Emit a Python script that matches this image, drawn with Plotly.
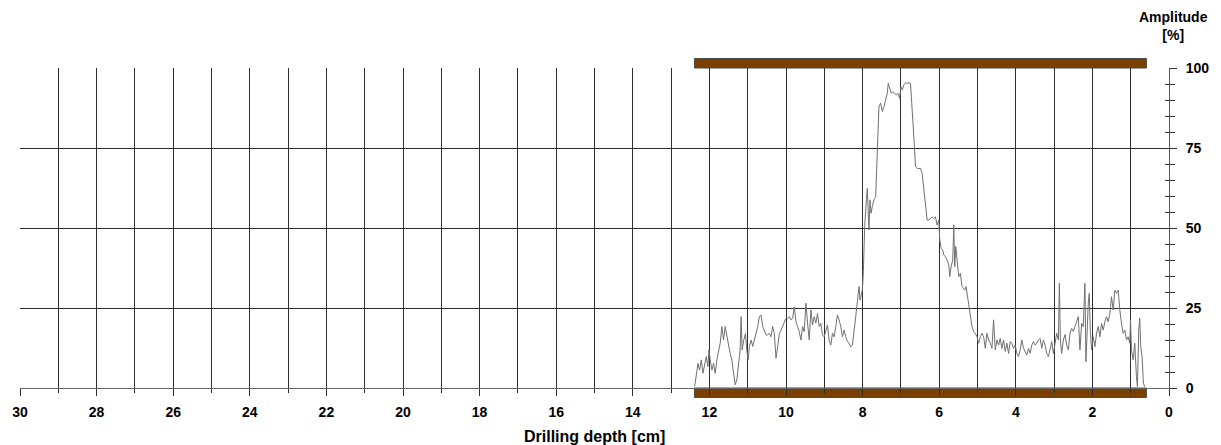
import plotly.graph_objects as go

# ---- data (depth in cm, amplitude in %) ----
depth_cm = [
    12.386, 12.343, 12.299, 12.256, 12.212, 12.169, 12.126, 12.082, 12.039, 12.013,
    11.978, 11.935, 11.891, 11.848, 11.805, 11.753, 11.718, 11.675, 11.631, 11.588,
    11.545, 11.501, 11.458, 11.414, 11.371, 11.328, 11.284, 11.241, 11.198, 11.172,
    11.146, 11.102, 11.059, 11.024, 10.989, 10.955, 10.911, 10.868, 10.825, 10.781,
    10.738, 10.695, 10.651, 10.608, 10.564, 10.521, 10.478, 10.434, 10.391, 10.348,
    10.304, 10.261, 10.217, 10.174, 10.131, 10.087, 10.044, 10.001, 9.957, 9.914,
    9.871, 9.827, 9.784, 9.740, 9.697, 9.654, 9.610, 9.567, 9.524, 9.480,
    9.437, 9.393, 9.350, 9.307, 9.263, 9.220, 9.177, 9.133,
    9.090, 9.047, 9.004, 8.960, 8.917, 8.874, 8.830, 8.787, 8.744, 8.700,
    8.657, 8.613, 8.570, 8.527, 8.483, 8.440, 8.397, 8.353, 8.310, 8.266,
    8.223, 8.180, 8.136, 8.093, 8.067, 8.032, 8.006, 7.980, 7.946, 7.902,
    7.876, 7.850, 7.833, 7.807, 7.781, 7.746, 7.703, 7.659, 7.616, 7.573,
    7.529, 7.486, 7.442, 7.399, 7.356, 7.330, 7.295, 7.252, 7.208, 7.165,
    7.121, 7.078, 7.035, 7.000, 6.965, 6.922, 6.879, 6.835, 6.792, 6.749,
    6.705, 6.662, 6.618, 6.575, 6.532, 6.488, 6.445, 6.402, 6.358, 6.315,
    6.271, 6.228, 6.185, 6.141, 6.098, 6.055, 6.011,
    5.985, 5.950, 5.907, 5.881, 5.837, 5.794, 5.750, 5.725, 5.690, 5.646,
    5.620, 5.594, 5.568, 5.542, 5.516, 5.490, 5.447, 5.404, 5.360, 5.334,
    5.299, 5.273, 5.230, 5.187, 5.143, 5.100, 5.057, 5.013, 4.970, 4.927,
    4.883, 4.840, 4.796, 4.753, 4.710, 4.666, 4.623, 4.580, 4.536, 4.493,
    4.449, 4.406, 4.363, 4.319, 4.276, 4.233, 4.189, 4.146, 4.102, 4.059,
    4.016, 3.972, 3.929, 3.886, 3.842, 3.799, 3.756, 3.712, 3.669, 3.625,
    3.582, 3.539, 3.495, 3.452, 3.409, 3.365, 3.322, 3.279, 3.235, 3.192,
    3.148, 3.105, 3.062, 3.018, 2.975, 2.932, 2.888, 2.862, 2.836, 2.802,
    2.758, 2.715, 2.671, 2.628, 2.585, 2.541, 2.498, 2.455, 2.411, 2.368,
    2.325, 2.281, 2.238, 2.195, 2.169, 2.134, 2.108, 2.082, 2.056, 2.021,
    1.978, 1.934, 1.891, 1.848, 1.804, 1.761, 1.718, 1.674, 1.631, 1.588,
    1.544, 1.501, 1.457, 1.414, 1.371, 1.327, 1.301, 1.284, 1.241, 1.197,
    1.154, 1.110, 1.067, 1.024, 1.006, 0.980, 0.937, 0.894, 0.850, 0.824,
    0.790, 0.764, 0.738, 0.703, 0.668, 0.633,
]
amplitude_pct = [
    0.4, 4.6, 7.7, 5.6, 8.8, 4.6, 6.7, 9.8, 6.7, 11.9,
    8.8, 5.6, 7.7, 4.6, 8.8, 11.9, 14.0, 19.2, 15.0, 19.2,
    16.0, 13.0, 10.8, 8.8, 4.6, 1.0, 2.5, 6.7, 11.9, 22.3,
    11.9, 15.0, 17.0, 11.9, 8.8, 13.0, 15.0, 13.0, 15.0, 17.0,
    19.2, 22.3, 22.8, 19.2, 17.6, 16.6, 16.6, 17.1, 16.0, 19.2,
    17.0, 9.3, 13.0, 17.0, 18.0, 19.2, 20.7, 21.8, 21.8, 22.3,
    21.3, 21.8, 25.4, 20.7, 19.2, 17.6, 15.0, 19.2, 17.6, 26.5,
    20.3, 15.0, 24.4, 19.7, 22.3, 20.3, 23.3, 19.2,
    20.2, 16.6, 16.0, 18.1, 19.7, 15.0, 13.4, 17.1, 16.0, 19.2,
    22.8, 21.3, 19.2, 16.0, 18.1, 16.0, 14.5, 14.0, 12.9, 13.4,
    17.1, 22.3, 27.0, 31.7, 27.5, 29.1, 30.6, 36.4, 50.4, 58.8,
    62.4, 53.5, 49.4, 58.8, 54.6, 56.7, 58.8, 59.8, 71.3, 87.9,
    89.0, 86.4, 87.9, 90.0, 92.1, 95.2, 93.6, 92.1, 92.6, 92.1,
    91.6, 92.1, 90.5, 94.2, 93.1, 94.7, 95.4, 95.2, 95.4, 95.2,
    87.9, 78.5, 69.2, 68.6, 68.6, 68.6, 67.1, 61.9, 55.6, 52.5,
    52.5, 53.0, 53.5, 53.0, 53.5, 50.9, 52.5,
    46.3, 43.6, 43.1, 41.6, 41.0, 40.0, 38.4, 34.8, 37.9, 40.0,
    51.0, 37.9, 44.2, 41.0, 36.4, 34.8, 35.8, 31.7, 31.1, 30.6,
    31.7, 29.6, 26.5, 22.3, 19.2, 17.6, 17.1, 16.0, 14.0, 16.0,
    17.1, 16.0, 12.4, 17.1, 15.0, 14.0, 12.4, 21.3, 11.9, 15.0,
    13.4, 15.5, 12.4, 15.0, 11.4, 14.0, 10.8, 14.5, 14.0, 12.4,
    13.4, 10.8, 9.8, 11.9, 15.0, 12.4, 11.4, 10.3, 12.4, 10.8,
    13.4, 14.5, 13.4, 14.0, 15.0, 15.5, 12.4, 15.0, 13.4, 10.8,
    9.8, 12.4, 14.5, 10.8, 14.0, 17.1, 15.0, 32.7, 15.0, 10.8,
    15.0, 16.7, 13.4, 11.9, 17.1, 18.6, 17.7, 19.2, 20.7, 22.3,
    11.9, 20.2, 19.2, 32.7, 8.2, 22.3, 26.5, 29.6, 18.1, 11.9,
    16.0, 12.9, 17.1, 19.2, 16.0, 20.2, 18.1, 20.7, 22.3, 20.7,
    23.3, 28.5, 24.4, 30.6, 29.6, 30.6, 26.5, 24.4, 20.2, 17.1,
    18.1, 15.0, 16.0, 14.0, 21.3, 11.9, 8.8, 14.0, 3.5, 0.4,
    18.1, 21.8, 12.9, 9.8, 1.5, 0.4,
]

x_range = [30, 0]          # drilling depth axis (reversed)
y_range = [0, 100]         # amplitude axis
drill_start_cm = 12.39     # extent of the brown drilling bars
drill_end_cm = 0.59

FONT = "Liberation Sans, Arial, sans-serif"
BROWN = "#7b3f00"
GRID = "#2e2e2e"

fig = go.Figure()
fig.add_trace(go.Scatter(
    x=depth_cm, y=amplitude_pct, mode="lines",
    line=dict(color="#707070", width=1), showlegend=False, hoverinfo="skip",
))
# helper (empty) trace so the overlaid axis with inward ticks is drawn
fig.add_trace(go.Scatter(x=[], y=[], yaxis="y2", showlegend=False))


def to_paper_x(d):
    return (x_range[0] - d) / (x_range[0] - x_range[1])


W, H = 1221, 445
L, R, T, B = 18, 50, 68, 57
plot_h = H - T - B
bar_h = 9.5 / plot_h

shapes = [
    dict(type="rect", xref="paper", yref="paper",
         x0=to_paper_x(drill_start_cm), x1=to_paper_x(drill_end_cm),
         y0=1.0, y1=1.0 + bar_h, fillcolor=BROWN,
         line=dict(color="#4a4a4a", width=1), layer="below"),
    dict(type="rect", xref="paper", yref="paper",
         x0=to_paper_x(drill_start_cm), x1=to_paper_x(drill_end_cm),
         y0=-bar_h, y1=0.0, fillcolor=BROWN,
         line=dict(color="#4a4a4a", width=1), layer="below"),
]

fig.update_layout(
    width=W, height=H,
    margin=dict(l=L, r=R, t=T, b=B, pad=0),
    paper_bgcolor="white", plot_bgcolor="white",
    shapes=shapes,
    font=dict(family=FONT, color="black"),
    xaxis=dict(
        range=x_range, tick0=0, dtick=2,
        showgrid=True, gridcolor=GRID, gridwidth=1,
        zeroline=False,
        showline=True, linecolor="#666666", linewidth=1,
        ticks="outside", ticklen=7, tickcolor=GRID, tickwidth=1,
        ticklabelstandoff=4,
        tickfont=dict(family=FONT, size=14, color="black", weight="bold"),
        minor=dict(dtick=1, tick0=0, showgrid=True, gridcolor=GRID, gridwidth=1,
                   ticks="outside", ticklen=4, tickcolor=GRID),
    ),
    yaxis=dict(
        range=y_range, side="right", tick0=0, dtick=25,
        showgrid=True, gridcolor=GRID, gridwidth=1,
        zeroline=False,
        showline=True, linecolor="#555555", linewidth=1,
        ticks="outside", ticklen=7, tickcolor="#333333",
        ticklabelstandoff=6,
        tickfont=dict(family=FONT, size=14, color="black", weight="bold"),
        minor=dict(dtick=5, tick0=0, ticks="outside", ticklen=5,
                   tickcolor="#333333", showgrid=False),
    ),
    yaxis2=dict(
        range=y_range, overlaying="y", side="right", anchor="x",
        showgrid=False, zeroline=False, showline=False,
        showticklabels=False, ticks="inside", ticklen=4,
        tick0=0, dtick=5, tickcolor="#333333",
    ),
    annotations=[
        dict(text="<b>Amplitude</b><br><b>[%]</b>", xref="paper", yref="paper",
             x=(1176 - L) / (W - L - R), y=(H - B - 7) / plot_h,
             xanchor="center", yanchor="top", showarrow=False,
             font=dict(family=FONT, size=14, color="black")),
        dict(text="<b>Drilling depth [cm]</b>", xref="paper", yref="paper",
             x=0.5, y=-(436 - (H - B)) / plot_h,
             xanchor="center", yanchor="middle", showarrow=False,
             font=dict(family=FONT, size=16, color="black")),
    ],
)

fig.write_html("out.html",
               config={"displayModeBar": False},
               post_script="document.body.style.margin='0';document.body.style.overflow='hidden';")
